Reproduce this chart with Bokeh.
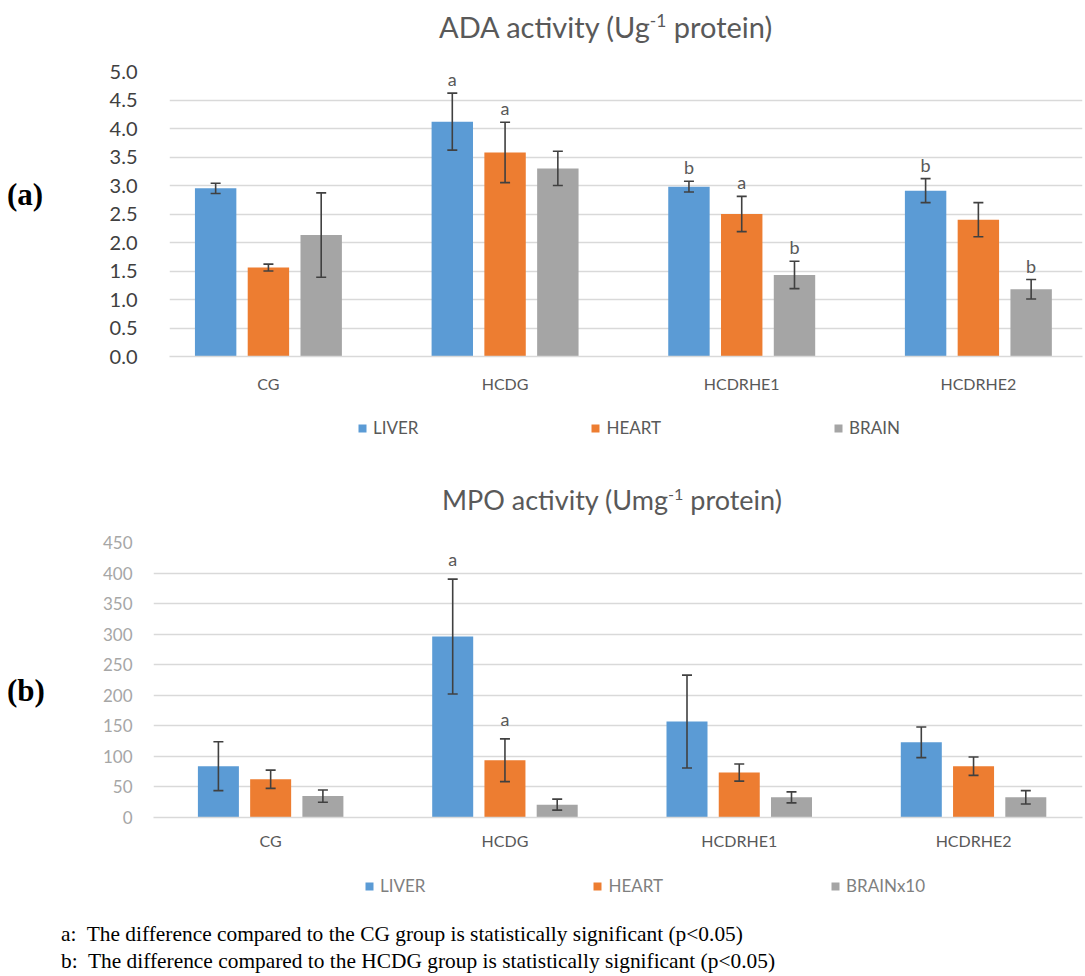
from bokeh.plotting import figure
from bokeh.models import (Range1d, FixedTicker, Whisker, TeeHead, ColumnDataSource,
                          Legend, LegendItem, Div)
from bokeh.layouts import column, row
from bokeh.core.properties import value
from bokeh.embed import file_html
from bokeh.resources import INLINE

# ---------------- data ----------------
groups = ["CG", "HCDG", "HCDRHE1", "HCDRHE2"]

# ADA activity (U g-1 protein)
ada_liver = [2.95, 4.12, 2.98, 2.91]
ada_liver_err = [0.09, 0.50, 0.095, 0.21]
ada_heart = [1.56, 3.58, 2.50, 2.40]
ada_heart_err = [0.06, 0.53, 0.31, 0.30]
ada_brain = [2.13, 3.30, 1.43, 1.18]
ada_brain_err = [0.74, 0.30, 0.24, 0.17]
ada_sig_liver = ["", "a", "b", "b"]
ada_sig_heart = ["", "a", "a", ""]
ada_sig_brain = ["", "", "b", "b"]

# MPO activity (U mg-1 protein)
mpo_liver = [84, 296, 157, 123]
mpo_liver_err = [40, 94, 76, 25]
mpo_heart = [62.6, 93.7, 73.5, 84]
mpo_heart_err = [15, 35, 14, 15]
mpo_brain = [35, 21, 33, 33]
mpo_brain_err = [10, 9, 9, 11]
mpo_sig_liver = ["", "a", "", ""]
mpo_sig_heart = ["", "a", "", ""]
mpo_sig_brain = ["", "", "", ""]

ada_series = ["LIVER", "HEART", "BRAIN"]
mpo_series = ["LIVER", "HEART", "BRAINx10"]
ada_ticks = [0.0, 0.5, 1.0, 1.5, 2.0, 2.5, 3.0, 3.5, 4.0, 4.5, 5.0]
mpo_ticks = [0, 50, 100, 150, 200, 250, 300, 350, 400, 450]

colors = ["#5b9bd5", "#ed7d31", "#a5a5a5"]
FONT = "Lato"
W = 1017


def make_chart(vals, errs, sigs, yticks, ymax, fmt, height, border_top, border_left,
               border_bottom, xr, tick_font_size, tick_color, tick_standoff,
               cat_standoff, label_offset):
    p = figure(width=W, height=height, output_backend="svg", toolbar_location=None,
               x_range=Range1d(*xr), y_range=Range1d(0, ymax),
               min_border_top=border_top, min_border_left=border_left,
               min_border_right=5, min_border_bottom=border_bottom)
    p.outline_line_color = None
    p.border_fill_color = "white"

    dodge = [-0.223, 0.0, 0.223]
    for k in range(3):
        xs = [i + 0.5 + dodge[k] for i in range(len(groups))]
        up = [v + e for v, e in zip(vals[k], errs[k])]
        lo = [v - e for v, e in zip(vals[k], errs[k])]
        src = ColumnDataSource(dict(x=xs, top=vals[k], upper=up, lower=lo, sig=sigs[k]))
        p.vbar(x="x", top="top", width=0.175, source=src, fill_color=colors[k],
               line_color=None)
        w = Whisker(source=src, base="x", upper="upper", lower="lower",
                    line_color="#404040", line_width=1.6, level="overlay",
                    upper_head=TeeHead(size=10, line_color="#404040", line_width=1.6),
                    lower_head=TeeHead(size=10, line_color="#404040", line_width=1.6))
        p.add_layout(w)
        p.text(x="x", y="upper", text="sig", source=src, text_align="center",
               text_baseline="bottom", y_offset=-label_offset,
               text_font=value(FONT), text_font_size="18px", text_color="#595959")

    p.xaxis.ticker = FixedTicker(ticks=[i + 0.5 for i in range(len(groups))])
    p.xaxis.major_label_overrides = {i + 0.5: g for i, g in enumerate(groups)}
    p.xaxis.major_tick_line_color = None
    p.xaxis.minor_tick_line_color = None
    p.xaxis.axis_line_color = "#d9d9d9"
    p.xaxis.axis_line_width = 1.5
    p.xaxis.major_label_text_font = FONT
    p.xaxis.major_label_text_font_size = "16px"
    p.xaxis.major_label_text_color = "#595959"
    p.xaxis.major_label_standoff = cat_standoff

    p.yaxis.ticker = FixedTicker(ticks=yticks)
    p.yaxis.major_label_overrides = {t: fmt.format(t) for t in yticks}
    p.yaxis.major_tick_line_color = None
    p.yaxis.minor_tick_line_color = None
    p.yaxis.axis_line_color = None
    p.yaxis.major_label_text_font = FONT
    p.yaxis.major_label_text_font_size = tick_font_size
    p.yaxis.major_label_text_color = tick_color
    p.yaxis.major_label_standoff = tick_standoff

    p.xgrid.grid_line_color = None
    p.ygrid.ticker = FixedTicker(ticks=yticks)
    p.ygrid.grid_line_color = "#d9d9d9"
    p.ygrid.grid_line_width = 1.5
    return p


def make_legend(series, vals, height, loc, spacing, color):
    # legend strip; its renderers are zero-size bars (only the legend swatches show)
    lp = figure(width=W, height=height, output_backend="svg", toolbar_location=None,
                x_range=Range1d(0, len(groups)), y_range=Range1d(-2, -1), min_border=0,
                x_axis_location=None, y_axis_location=None)
    lp.outline_line_color = None
    lp.xgrid.grid_line_color = None
    lp.ygrid.grid_line_color = None
    items = []
    for s, c, v in zip(series, colors, vals):
        r = lp.vbar(x=[i + 0.5 for i in range(len(groups))], top=v, bottom=v, width=0,
                    fill_color=c, line_color=None)
        items.append(LegendItem(label=s, renderers=[r]))
    leg = Legend(items=items, orientation="horizontal", location=loc,
                 spacing=spacing, glyph_width=10, glyph_height=10,
                 label_standoff=6, label_text_font=FONT, label_text_font_size="17px",
                 label_text_color=color, border_line_color=None,
                 background_fill_alpha=0, padding=0, margin=0)
    lp.add_layout(leg, "center")
    return lp


def title_div(html, height, pad_top, pad_left, size):
    return Div(text=(f'<div style="font-family:Lato,sans-serif;font-size:{size}px;color:#595959;'
                     f'line-height:32px;padding-top:{pad_top}px;padding-left:{pad_left}px;'
                     f'white-space:nowrap;">{html}</div>'), width=W, height=height)


t1 = title_div('ADA activity (Ug<sup style="font-size:60%">-1</sup> protein)', 40, 0, 364, 29)
p1 = make_chart([ada_liver, ada_heart, ada_brain],
                [ada_liver_err, ada_heart_err, ada_brain_err],
                [ada_sig_liver, ada_sig_heart, ada_sig_brain],
                ada_ticks, 5.0, "{:.1f}", 360, 21, 99, 54, (0.082, 3.94),
                "20px", "#404040", 26, 11, 3)
l1 = make_legend(ada_series, [ada_liver, ada_heart, ada_brain], 42, (188, 14), 172,
                 "#595959")

t2 = title_div('MPO activity (Umg<sup style="font-size:60%">-1</sup> protein)', 59, 21, 367, 27)
p2 = make_chart([mpo_liver, mpo_heart, mpo_brain],
                [mpo_liver_err, mpo_heart_err, mpo_brain_err],
                [mpo_sig_liver, mpo_sig_heart, mpo_sig_brain],
                mpo_ticks, 450, "{:.0f}", 348, 21, 83, 52, (0.0, 3.965),
                "17px", "#a6a6a6", 15, 7, 9)
l2 = make_legend(mpo_series, [mpo_liver, mpo_heart, mpo_brain], 35, (211, 8), 167,
                 "#7f7f7f")

lab_style = ("font-family:'Liberation Serif',serif;font-weight:bold;font-size:31px;"
             "color:#000;line-height:32px;padding-left:2px;")
div_a = Div(text=f'<div style="{lab_style}padding-top:174px;">(a)</div>', width=60, height=442)
div_b = Div(text=f'<div style="{lab_style}padding-top:218px;">(b)</div>', width=60, height=442)

foot = Div(text=(
    '<div style="font-family:\'Liberation Serif\',serif;font-size:21.4px;color:#000;'
    'line-height:27px;padding-top:12px;padding-left:56px;white-space:nowrap;">'
    'a:&nbsp; The difference compared to the CG group is statistically significant (p&lt;0.05)<br>'
    'b:&nbsp; The difference compared to the HCDG group is statistically significant (p&lt;0.05)'
    '</div>'), width=1077, height=64)

layout = column(row(div_a, column(t1, p1, l1)), row(div_b, column(t2, p2, l2)), foot)

open("out.html", "w").write(file_html(layout, INLINE))
